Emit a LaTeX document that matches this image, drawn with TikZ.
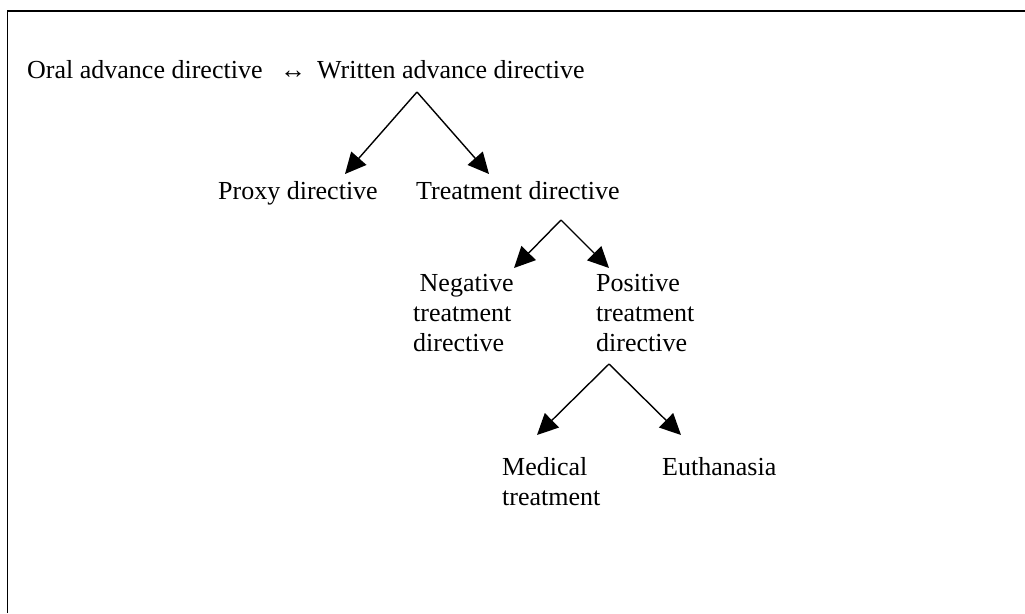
\documentclass[tikz,border=0pt]{standalone}
\usepackage{fontspec}
\setmainfont{Liberation Serif}
\usetikzlibrary{arrows.meta}
\begin{document}
\begin{tikzpicture}[x=1pt,y=-1pt,
  lbl/.style={anchor=base west, inner sep=0pt, font=\fontsize{26}{30}\selectfont, align=left},
  arr/.style={line width=1.4pt, -{Triangle[length=21pt,width=20pt]}}]
\useasboundingbox (0,0) rectangle (1025,613);
\draw[line width=1.5pt] (7.5,613) -- (7.5,11) -- (1025,11);
% texts (base west = baseline of the last line)
\node[lbl] (oral) at (27,78) {Oral advance directive};
\node[lbl] (both) at (280,78) {↔};
\node[lbl] (written) at (317,78) {Written advance directive};
\node[lbl] (proxy) at (218,199) {Proxy directive};
\node[lbl] (treat) at (416,199) {Treatment directive};
\node[lbl] (neg) at (413,351) {\hspace*{6.5pt}Negative\\treatment\\directive};
\node[lbl] (pos) at (596,351) {Positive\\treatment\\directive};
\node[lbl] (med) at (502,505) {Medical\\treatment};
\node[lbl] (euth) at (662,475) {Euthanasia};
% connector end points
\coordinate (a1) at (417,92);
\coordinate (p1) at (345,174);
\coordinate (t1) at (489,174);
\coordinate (a2) at (561,220);
\coordinate (n2) at (514,268);
\coordinate (s2) at (609,268);
\coordinate (a3) at (609,364);
\coordinate (m3) at (537,435);
\coordinate (e3) at (681,435);
\draw[arr] (a1) -- (p1);
\draw[arr] (a1) -- (t1);
\draw[arr] (a2) -- (n2);
\draw[arr] (a2) -- (s2);
\draw[arr] (a3) -- (m3);
\draw[arr] (a3) -- (e3);
\end{tikzpicture}
\end{document}
